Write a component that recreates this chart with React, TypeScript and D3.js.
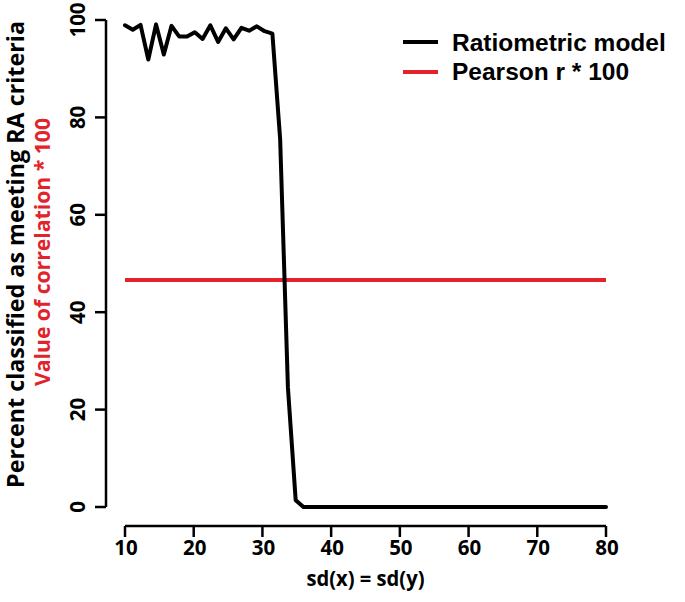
import React from "react";
import * as d3 from "d3";

const sdValues: number[] = [
  10, 11.13, 12.26, 13.39, 14.52, 15.65, 16.77, 17.9, 19.03, 20.16, 21.29, 22.42, 23.55,
  24.68, 25.81, 26.94, 28.06, 29.19, 30.32, 31.45, 32.58, 33.71, 34.84, 35.97, 37.1, 38.23,
  39.35, 40.48, 41.61, 42.74, 43.87, 45.0, 46.13, 47.26, 48.39, 49.52, 50.65, 51.77, 52.9,
  54.03, 55.16, 56.29, 57.42, 58.55, 59.68, 60.81, 61.94, 63.06, 64.19, 65.32, 66.45, 67.58,
  68.71, 69.84, 70.97, 72.1, 73.23, 74.35, 75.48, 76.61, 77.74, 78.87, 80,
];

const ratiometric: number[] = [
  98.9, 98.0, 99.0, 91.9, 99.1, 92.9, 98.8, 96.6, 96.6, 97.5, 96.1, 98.9, 95.5, 98.3, 96.0,
  98.4, 97.8, 98.7, 97.7, 97.2, 75.5, 24.5, 1.4, 0, 0, 0, 0, 0, 0, 0, 0, 0, 0, 0, 0, 0, 0, 0,
  0, 0, 0, 0, 0, 0, 0, 0, 0, 0, 0, 0, 0, 0, 0, 0, 0, 0, 0, 0, 0, 0, 0, 0, 0,
];

const pearsonX: number[] = [10, 80];
const pearsonY: number[] = [46.6, 46.6];

const xTicks: number[] = [10, 20, 30, 40, 50, 60, 70, 80];
const yTicks: number[] = [0, 20, 40, 60, 80, 100];

const legendLabels: string[] = ["Ratiometric model", "Pearson r * 100"];
const legendColors: string[] = ["#000000", "#e2232a"];

const xTitle = "sd(x) = sd(y)";
const yTitle1 = "Percent classified as meeting RA criteria";
const yTitle2 = "Value of correlation * 100";

export default function App() {
  const W = 685;
  const H = 602;
  const x = d3.scaleLinear().domain([10, 80]).range([125, 606]);
  const y = d3.scaleLinear().domain([0, 100]).range([507, 20]);

  const line = d3
    .line<[number, number]>()
    .x((d) => x(d[0]))
    .y((d) => y(d[1]));

  const blackPts: [number, number][] = sdValues.map((v, i) => [v, ratiometric[i]]);
  const redPts: [number, number][] = pearsonX.map((v, i) => [v, pearsonY[i]]);

  const axisFont = "'Open Sans', 'DejaVu Sans', sans-serif";
  const legendFont = "'Liberation Sans', Arial, sans-serif";
  const axisY = 526;
  const axisX = 106;

  return (
    <svg
      width={W}
      height={H}
      style={{ position: "absolute", left: 0, top: 0, background: "#fff" }}
    >
      {/* red line */}
      <path d={line(redPts) || ""} fill="none" stroke={legendColors[1]} strokeWidth={4} />
      {/* black line */}
      <path
        d={line(blackPts) || ""}
        fill="none"
        stroke={legendColors[0]}
        strokeWidth={4}
        strokeLinejoin="round"
        strokeLinecap="round"
      />

      {/* x axis */}
      <line x1={x(10)} x2={x(80)} y1={axisY} y2={axisY} stroke="#000" strokeWidth={2.5} />
      {xTicks.map((t) => (
        <g key={"xt" + t}>
          <line x1={x(t)} x2={x(t)} y1={axisY} y2={axisY + 11} stroke="#000" strokeWidth={2.5} />
          <text
            x={x(t) + 1}
            y={547}
            textAnchor="middle"
            dominantBaseline="central"
            fontFamily={axisFont}
            fontWeight="bold"
            fontSize={20.5}
          >
            {t}
          </text>
        </g>
      ))}
      <text
        x={x(45)}
        y={578}
        textAnchor="middle"
        dominantBaseline="central"
        fontFamily={axisFont}
        fontWeight="bold"
        fontSize={20.5}
        textLength={118}
        lengthAdjust="spacingAndGlyphs"
      >
        {xTitle}
      </text>

      {/* y axis */}
      <line x1={axisX} x2={axisX} y1={y(0)} y2={y(100)} stroke="#000" strokeWidth={2.5} />
      {yTicks.map((t) => (
        <g key={"yt" + t}>
          <line x1={axisX} x2={axisX - 11} y1={y(t)} y2={y(t)} stroke="#000" strokeWidth={2.5} />
          <text
            transform={`translate(77,${y(t)}) rotate(-90)`}
            textAnchor="middle"
            dominantBaseline="central"
            fontFamily={axisFont}
            fontWeight="bold"
            fontSize={20.5}
          >
            {t}
          </text>
        </g>
      ))}
      <text
        transform={`translate(15,254.5) rotate(-90)`}
        textAnchor="middle"
        dominantBaseline="central"
        fontFamily={axisFont}
        fontWeight="bold"
        fontSize={22.5}
        textLength={467}
        lengthAdjust="spacingAndGlyphs"
      >
        {yTitle1}
      </text>
      <text
        transform={`translate(41,252) rotate(-90)`}
        textAnchor="middle"
        dominantBaseline="central"
        fontFamily={axisFont}
        fontWeight="bold"
        fontSize={22}
        fill={legendColors[1]}
        textLength={268}
        lengthAdjust="spacingAndGlyphs"
      >
        {yTitle2}
      </text>

      {/* legend */}
      {legendLabels.map((lab, i) => (
        <g key={"lg" + i}>
          <line
            x1={403}
            x2={438}
            y1={42 + i * 30}
            y2={42 + i * 30}
            stroke={legendColors[i]}
            strokeWidth={4}
          />
          <text
            x={452}
            y={42 + i * 29}
            dominantBaseline="central"
            fontFamily={legendFont}
            fontWeight="bold"
            fontSize={24.5}
          >
            {lab}
          </text>
        </g>
      ))}
    </svg>
  );
}
